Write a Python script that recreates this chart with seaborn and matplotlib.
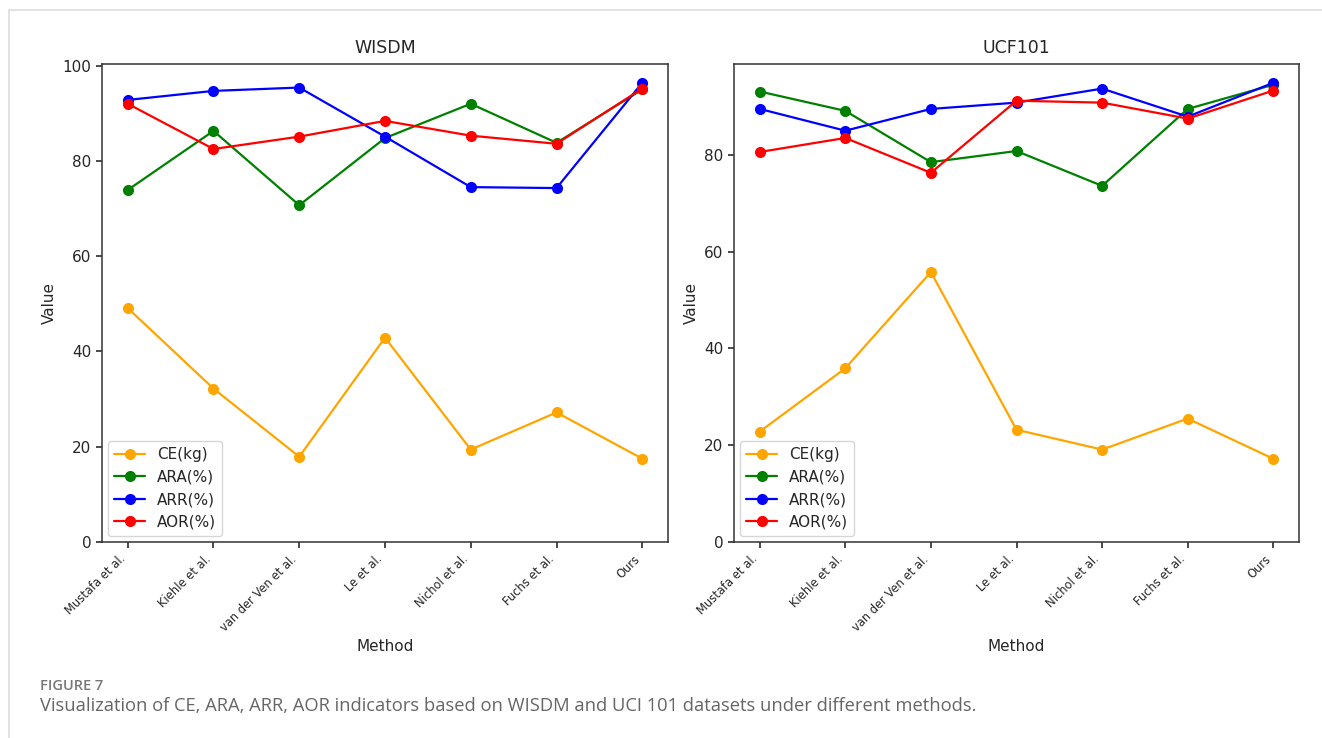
import matplotlib

matplotlib.use("Agg")
import matplotlib.pyplot as plt
import pandas as pd
import seaborn as sns
from matplotlib.lines import Line2D

methods = ["Mustafa et al.", "Kiehle et al.", "van der Ven et al.", "Le et al.",
           "Nichol et al.", "Fuchs et al.", "Ours"]
metrics = ["CE(kg)", "ARA(%)", "ARR(%)", "AOR(%)"]
colors = ["orange", "green", "blue", "red"]

wisdm_ce = [49.1, 32.2, 17.9, 42.9, 19.4, 27.2, 17.5]
wisdm_ara = [73.9, 86.3, 70.7, 84.8, 92.0, 83.8, 95.0]
wisdm_arr = [92.8, 94.7, 95.4, 85.1, 74.5, 74.3, 96.4]
wisdm_aor = [92.0, 82.5, 85.1, 88.4, 85.3, 83.6, 95.2]

ucf_ce = [22.8, 35.9, 55.8, 23.2, 19.1, 25.5, 17.2]
ucf_ara = [93.1, 89.1, 78.5, 80.8, 73.6, 89.5, 94.5]
ucf_arr = [89.5, 85.0, 89.5, 90.8, 93.7, 87.9, 94.9]
ucf_aor = [80.6, 83.5, 76.3, 91.2, 90.8, 87.5, 93.3]

datasets = {
    "WISDM": [wisdm_ce, wisdm_ara, wisdm_arr, wisdm_aor],
    "UCF101": [ucf_ce, ucf_ara, ucf_arr, ucf_aor],
}

sns.set_theme(style="ticks")
plt.rcParams["font.family"] = ["DejaVu Sans"]

fig = plt.figure(figsize=(13.22, 7.38), dpi=100)
fig.patch.set_facecolor("white")

# page frame lines
fig.add_artist(Line2D([9 / 1322, 1.0], [1 - 10 / 738, 1 - 10 / 738], color="#dddddd", lw=1.2))
fig.add_artist(Line2D([9 / 1322, 9 / 1322], [0.0, 1 - 10 / 738], color="#dddddd", lw=1.2))

positions = [
    [102 / 1322, 1 - 542 / 738, 566 / 1322, 478 / 738],
    [734 / 1322, 1 - 542 / 738, 565 / 1322, 478 / 738],
]

for pos, (name, series) in zip(positions, datasets.items()):
    ax = fig.add_axes(pos)
    for label, values, color in zip(metrics, series, colors):
        df = pd.DataFrame({"Method": methods, "Value": values})
        sns.lineplot(data=df, x="Method", y="Value", ax=ax, color=color, marker="o",
                     markersize=8, markeredgewidth=0, linewidth=1.6, label=label, sort=False)
    ax.set_ylim(bottom=0)
    ax.set_title(name, fontsize=12.5, pad=8)
    ax.set_xlabel("Method", fontsize=11)
    ax.set_ylabel("Value", fontsize=11)
    ax.tick_params(axis="y", labelsize=11, length=4, color="#333333")
    ax.tick_params(axis="x", labelsize=8.3, length=4, color="#333333")
    for lab in ax.get_xticklabels():
        lab.set_rotation(45)
        lab.set_ha("right")
    for spine in ax.spines.values():
        spine.set_color("#333333")
        spine.set_linewidth(1.1)
    ax.legend(loc="lower left", fontsize=11, frameon=True, handlelength=2, borderaxespad=0.4)

fig.text(40 / 1322, 1 - 686 / 738, "FIGURE 7", fontsize=10.5, color="#777777",
         family=["Open Sans", "DejaVu Sans"], fontweight="semibold", va="center")
fig.text(40 / 1322, 1 - 706 / 738,
         "Visualization of CE, ARA, ARR, AOR indicators based on WISDM and UCI 101 datasets under different methods.",
         fontsize=13.2, color="#666666", family=["Open Sans", "DejaVu Sans"], va="center")

fig.savefig("out.png", dpi=100, facecolor="white")
